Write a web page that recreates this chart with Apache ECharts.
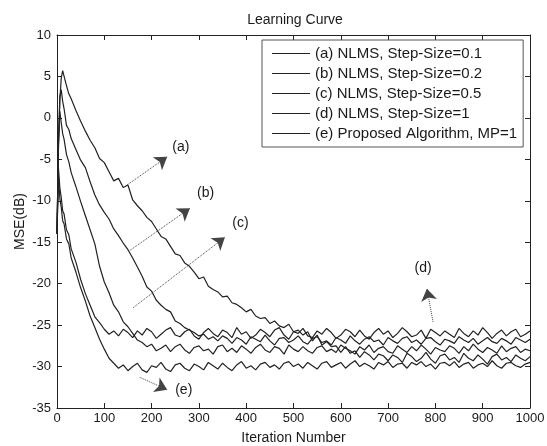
<!DOCTYPE html>
<html>
<head>
<meta charset="utf-8">
<script src="https://cdn.jsdelivr.net/npm/echarts@6/dist/echarts.min.js"></script>
<style>
html, body { margin: 0; padding: 0; background: #fff; }
#chart { width: 547px; height: 446px; }
</style>
</head>
<body>
<div id="chart"></div>
<script>
// iteration grid (x) shared by every curve
const iterations = [0, 3, 6, 9, 12, 15, 20, 25, 30,
  40, 50, 60, 70, 80, 90, 100, 110, 120, 130,
  140, 150, 160, 170, 180, 190, 200, 210, 220, 230,
  240, 250, 260, 270, 280, 290, 300, 310, 320, 330,
  340, 350, 360, 370, 380, 390, 400, 410, 420, 430,
  440, 450, 460, 470, 480, 490, 500, 510, 520, 530,
  540, 550, 560, 570, 580, 590, 600, 610, 620, 630,
  640, 650, 660, 670, 680, 690, 700, 710, 720, 730,
  740, 750, 760, 770, 780, 790, 800, 810, 820, 830,
  840, 850, 860, 870, 880, 890, 900, 910, 920, 930,
  940, 950, 960, 970, 980, 990, 1000];

// (a) NLMS, step 0.1
const mseA = [-14.0, -4.0, 2.1, 4.8, 5.7, 5.0, 3.9, 2.9, 2.3,
  0.9, -0.4, -1.6, -2.7, -3.6, -4.9, -5.4, -6.5, -7.6, -7.3,
  -8.4, -8.1, -9.9, -10.6, -11.2, -12.0, -12.5, -13.4, -14.3, -14.6,
  -15.5, -16.4, -16.6, -17.5, -17.9, -18.6, -19.4, -19.2, -20.3, -20.7,
  -21.0, -21.6, -21.5, -22.3, -22.5, -22.9, -23.4, -23.1, -23.9, -24.2,
  -24.1, -24.8, -24.5, -25.1, -25.3, -24.9, -25.8, -25.6, -26.2, -25.8,
  -26.9, -26.2, -27.4, -27.0, -27.6, -27.5, -28.3, -27.6, -28.4, -28.1,
  -28.9, -28.2, -28.6, -29.2, -28.5, -28.7, -29.3, -28.6, -28.9, -29.5,
  -28.4, -28.8, -29.4, -29.0, -28.3, -29.1, -29.6, -28.7, -28.5, -29.2,
  -28.9, -29.5, -28.4, -29.0, -29.3, -28.6, -29.1, -29.7, -28.8, -28.5,
  -29.2, -28.9, -29.4, -28.6, -29.0, -29.3, -28.8];

// (b) NLMS, step 0.2
const mseB = [-14.0, -3.0, 2.6, 3.4, 2.0, 1.1, -0.9, -1.4, -2.5,
  -3.8, -5.1, -6.0, -7.7, -9.3, -10.5, -11.4, -12.2, -13.4, -14.2,
  -15.1, -15.9, -16.9, -18.0, -19.1, -20.4, -20.9, -22.0, -22.6, -23.1,
  -23.4, -24.5, -24.8, -25.3, -25.6, -25.9, -26.3, -26.1, -26.7, -26.4,
  -26.9, -26.3, -26.6, -27.2, -26.5, -26.8, -27.3, -26.4, -26.7, -27.0,
  -26.2, -26.9, -27.4, -26.6, -26.5, -27.1, -26.8, -26.3, -27.0, -27.3,
  -26.6, -26.4, -27.1, -26.9, -27.4, -26.5, -26.8, -27.2, -26.3, -26.9,
  -27.3, -26.7, -26.4, -27.0, -26.8, -27.4, -26.5, -26.9, -27.2, -26.6,
  -26.4, -27.1, -26.8, -27.3, -26.6, -26.5, -27.0, -27.4, -26.7, -26.9,
  -27.2, -26.4, -26.8, -27.1, -26.6, -27.3, -26.9, -26.5, -27.0, -27.2,
  -26.6, -26.9, -27.3, -26.5, -26.8, -27.1, -26.7];

// (c) NLMS, step 0.5
const mseC = [-14.0, -3.2, 0.8, -0.6, -1.9, -2.6, -4.4, -5.3, -6.6,
  -8.3, -10.1, -11.8, -13.5, -15.2, -17.9, -19.8, -21.1, -22.6, -23.4,
  -24.6, -25.2, -26.0, -26.8, -27.1, -27.6, -27.3, -28.1, -27.8, -27.4,
  -28.2, -27.6, -27.3, -28.0, -28.4, -27.7, -27.5, -28.1, -27.9, -28.5,
  -27.6, -27.4, -28.2, -27.8, -28.3, -27.5, -27.9, -28.4, -27.7, -27.3,
  -28.0, -28.3, -27.6, -27.8, -28.5, -27.4, -27.9, -28.2, -27.6, -28.1,
  -28.4, -27.7, -27.5, -28.2, -27.9, -28.3, -27.4, -27.8, -28.1, -28.5,
  -27.6, -28.0, -27.4, -28.3, -27.8, -27.6, -28.2, -28.4, -27.5, -27.9,
  -28.3, -27.6, -28.1, -27.4, -27.9, -28.5, -27.7, -28.0, -28.2, -27.5,
  -27.8, -28.4, -27.6, -28.1, -27.3, -27.9, -28.3, -27.7, -28.0, -28.4,
  -27.5, -28.2, -27.8, -27.6, -28.3, -27.9, -28.1];

// (d) NLMS, step 1
const mseD = [-14.0, -6.0, -8.4, -9.6, -11.2, -11.6, -13.5, -14.1, -15.8,
  -17.4, -19.5, -21.2, -22.6, -24.0, -24.7, -25.5, -26.1, -25.7, -26.3,
  -25.5, -25.9, -26.5, -25.7, -26.2, -25.4, -25.8, -26.6, -26.1, -25.6,
  -25.3, -26.2, -26.4, -25.8, -25.5, -26.3, -26.7, -25.9, -25.4, -26.0,
  -26.4, -25.6, -25.9, -26.5, -25.3, -26.1, -25.8, -26.6, -26.2, -25.5,
  -25.9, -26.4, -25.6, -25.3, -26.2, -26.7, -25.8, -26.0, -25.4, -26.3,
  -26.5, -25.7, -26.1, -25.4, -25.9, -26.6, -26.2, -25.5, -25.8, -26.4,
  -25.6, -26.3, -26.7, -25.9, -25.4, -26.1, -25.7, -26.5, -26.0, -25.3,
  -25.8, -26.4, -26.2, -25.6, -26.6, -25.5, -25.9, -26.3, -25.7, -26.1,
  -26.5, -25.4, -26.0, -26.4, -25.7, -26.2, -25.3, -25.9, -26.6, -26.0,
  -25.6, -26.3, -25.8, -25.5, -26.4, -26.1, -25.7];

// (e) proposed algorithm
const mseE = [-14.0, -7.0, -9.7, -10.8, -12.4, -12.8, -14.6, -15.2, -16.9,
  -18.6, -20.5, -22.1, -23.9, -25.3, -26.7, -27.9, -29.0, -29.6, -30.2,
  -29.8, -30.5, -30.0, -29.6, -30.4, -30.7, -29.9, -30.1, -29.5, -30.3,
  -30.6, -29.8, -29.6, -30.2, -30.5, -29.7, -30.0, -30.4, -29.5, -29.9,
  -30.3, -29.6, -30.1, -30.5, -29.8, -29.4, -30.2, -29.9, -30.4, -29.7,
  -29.5, -30.1, -29.8, -30.3, -29.6, -29.4, -30.0, -29.7, -30.2, -29.5,
  -29.9, -30.3, -29.6, -29.4, -30.1, -29.8, -29.5, -30.2, -29.7, -29.3,
  -30.0, -29.6, -29.9, -30.3, -29.5, -29.8, -29.4, -30.1, -29.7, -29.6,
  -30.2, -29.5, -29.8, -29.4, -30.0, -29.7, -30.3, -29.6, -29.5, -29.9,
  -29.4, -30.1, -29.7, -29.5, -30.2, -29.8, -29.6, -30.0, -29.3, -29.9,
  -30.2, -29.6, -29.5, -29.9, -30.1, -29.7, -29.5];

const seriesNames = [
  '(a) NLMS, Step-Size=0.1',
  '(b) NLMS, Step-Size=0.2',
  '(c) NLMS, Step-Size=0.5',
  '(d) NLMS, Step-Size=1',
  '(e) Proposed Algorithm, MP=1'
];
const seriesValues = [mseA, mseB, mseC, mseD, mseE];

// annotation arrows: [tail, head] in (iteration, dB), and label spots
const arrowTags = ['(a)', '(b)', '(c)', '(d)', '(e)'];
const arrowTails = [[148, -8.1], [154, -16.0], [161, -22.9], [795, -24.6], [175, -31.3]];
const arrowHeads = [[233, -4.7], [281, -10.9], [355, -14.4], [782, -20.6], [233, -32.8]];
const tagSpots = [[262, -3.5], [314, -9.1], [388, -12.7], [774, -18.1], [268, -32.9]];

const font = 'Liberation Sans, Arial, Helvetica, sans-serif';
const ink = '#1a1a1a';

const chart = echarts.init(document.getElementById('chart'));

const series = seriesNames.map((name, k) => ({
  name: name,
  type: 'line',
  data: iterations.map((x, i) => [x, seriesValues[k][i]]),
  symbol: 'none',
  lineStyle: { color: '#222', width: 1.2 },
  itemStyle: { color: '#222' },
  silent: true,
  z: 2
}));

series[4].markLine = {
  silent: true,
  symbol: ['none', 'arrow'],
  symbolSize: 12,
  lineStyle: { type: 'dotted', color: '#444', width: 1 },
  label: { show: false },
  data: arrowTails.map((t, i) => [{ coord: t }, { coord: arrowHeads[i] }])
};
series[4].markPoint = {
  silent: true,
  symbol: 'circle',
  symbolSize: 1,
  itemStyle: { color: 'rgba(0,0,0,0)' },
  label: { show: true, position: 'inside', formatter: '{b}', color: ink, fontSize: 14, fontFamily: font },
  data: tagSpots.map((c, i) => ({ name: arrowTags[i], coord: c }))
};

const axisBase = {
  type: 'value',
  axisLine: { show: true, onZero: false, lineStyle: { color: '#222', width: 1 } },
  axisTick: { show: true, inside: true, length: 5, lineStyle: { color: '#222' } },
  splitLine: { show: false }
};

chart.setOption({
  animation: false,
  backgroundColor: '#fff',
  title: {
    text: 'Learning Curve',
    left: 290,
    top: 8,
    textAlign: 'center',
    textStyle: { fontSize: 14, fontWeight: 'normal', color: ink, fontFamily: font }
  },
  legend: {
    data: seriesNames,
    orient: 'vertical',
    left: 262,
    top: 40,
    padding: [6, 6, 6, 10],
    icon: 'path://M0,0H40V1H0Z',
    itemWidth: 38,
    itemHeight: 14,
    itemGap: 5,
    backgroundColor: '#fff',
    borderColor: '#555',
    borderWidth: 1,
    borderRadius: 0,
    selectedMode: false,
    textStyle: { fontSize: 15, color: ink, fontFamily: font }
  },
  grid: { left: 57, right: 17, top: 35, bottom: 38, outerBoundsMode: 'none', containLabel: false },
  xAxis: [
    Object.assign({}, axisBase, {
      position: 'bottom',
      min: 0, max: 1000, interval: 100,
      name: 'Iteration Number',
      nameLocation: 'middle',
      nameGap: 23,
      nameMoveOverlap: false,
      nameTextStyle: { fontSize: 14, color: ink, fontFamily: font },
      axisLabel: { fontSize: 13, color: ink, fontFamily: font, margin: 4, formatter: v => String(v) }
    }),
    Object.assign({}, axisBase, {
      position: 'top',
      min: 0, max: 1000, interval: 100,
      axisLabel: { show: false }
    })
  ],
  yAxis: [
    Object.assign({}, axisBase, {
      position: 'left',
      min: -35, max: 10, interval: 5,
      name: 'MSE(dB)',
      nameLocation: 'middle',
      nameGap: 30,
      nameMoveOverlap: false,
      nameRotate: 90,
      nameTextStyle: { fontSize: 14, color: ink, fontFamily: font },
      axisLabel: { fontSize: 13, color: ink, fontFamily: font, margin: 6 }
    }),
    Object.assign({}, axisBase, {
      position: 'right',
      min: -35, max: 10, interval: 5,
      axisLabel: { show: false }
    })
  ],
  series: series
});
</script>
</body>
</html>
